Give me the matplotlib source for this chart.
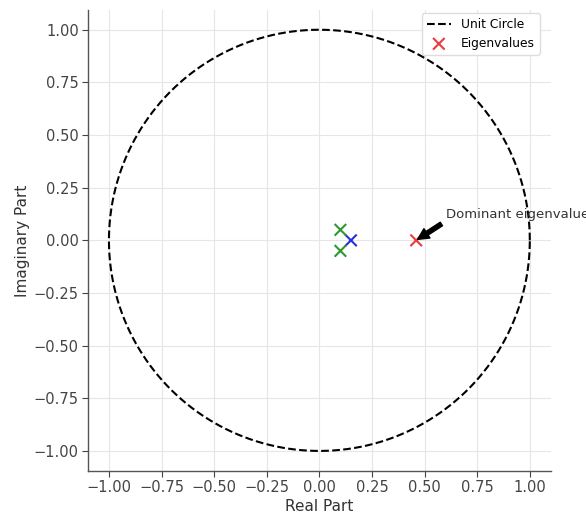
import numpy as np
import matplotlib
matplotlib.use("Agg")
import matplotlib.pyplot as plt

# Eigenvalues of the system (real and imaginary parts)
eig_real = [0.46, 0.15, 0.10, 0.10]
eig_imag = [0.00, 0.00, 0.05, -0.05]
eig_colors = ["#ee3b3b", "#2233dd", "#2e9a2e", "#2e9a2e"]

ticks = [-1.00, -0.75, -0.50, -0.25, 0.00, 0.25, 0.50, 0.75, 1.00]

theta = np.linspace(0, 2 * np.pi, 400)

fig = plt.figure(figsize=(5.86, 5.13), dpi=100)
ax = fig.add_axes([0.150, 0.082, 0.790, 0.899])

ax.plot(np.cos(theta), np.sin(theta), linestyle="--", color="black",
        linewidth=1.5, label="Unit Circle")
ax.scatter(eig_real, eig_imag, c=eig_colors, marker="x", s=70,
           linewidths=1.5, label="Eigenvalues", zorder=3)

ax.annotate("Dominant eigenvalue", xy=(eig_real[0], eig_imag[0]),
            xytext=(0.60, 0.105), fontsize=9.5, color="#333333",
            arrowprops=dict(facecolor="black", shrink=0.05, width=3,
                            headwidth=8, headlength=8),
            annotation_clip=False)

ax.set_xlim(-1.1, 1.1)
ax.set_ylim(-1.095, 1.095)
ax.set_xticks(ticks)
ax.set_yticks(ticks)
ax.set_xticklabels([f"{t:.2f}".replace("-", "\u2212") for t in ticks])
ax.set_yticklabels([f"{t:.2f}".replace("-", "\u2212") for t in ticks])

ax.set_xlabel("Real Part", fontsize=11, color="#333333", labelpad=3)
ax.set_ylabel("Imaginary Part", fontsize=11, color="#333333", labelpad=3)
ax.tick_params(labelsize=10.5, colors="#444444", length=4, width=0.8,
               pad=2.5)

ax.grid(True, color="#e6e6e6", linewidth=0.8)
ax.set_axisbelow(True)
for side in ("top", "right"):
    ax.spines[side].set_visible(False)
for side in ("left", "bottom"):
    ax.spines[side].set_color("#555555")
    ax.spines[side].set_linewidth(1.0)

ax.legend(loc="upper right", bbox_to_anchor=(0.976, 0.993), borderaxespad=0,
          fontsize=8.8, frameon=True, edgecolor="#dddddd", framealpha=1.0)

fig.savefig("out.png", dpi=100)
